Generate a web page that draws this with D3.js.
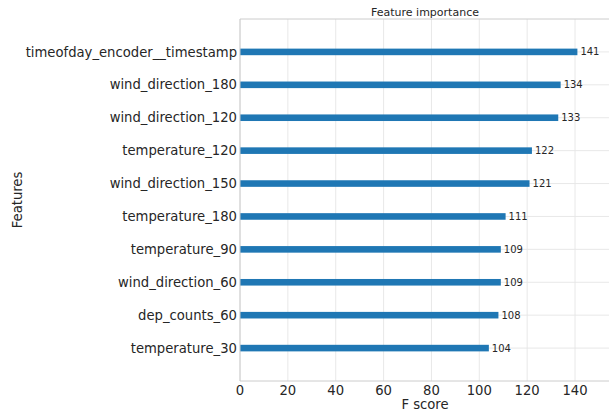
<!DOCTYPE html>
<html><head><meta charset="utf-8">
<script src="https://cdn.jsdelivr.net/npm/d3@7"></script>
<style>body{margin:0;background:#fff}svg{display:block}text{font-family:"DejaVu Sans",sans-serif}</style>
</head><body>
<script>
const features = ["temperature_30","dep_counts_60","wind_direction_60","temperature_90","temperature_180","wind_direction_150","temperature_120","wind_direction_120","wind_direction_180","timeofday_encoder__timestamp"];
const scores = [104,108,109,109,111,121,122,133,134,141];
const xTicks = [0,20,40,60,80,100,120,140];

(function(){
const W=609,H=417;
const svg=d3.select("body").append("svg").attr("width",W).attr("height",H);
const pL=240, pT=19, pB=381;
const x=d3.scaleLinear().domain([0,d3.max(scores)*1.1]).range([pL,pL+155.1*(335/140)]);
const y=d3.scaleLinear().domain([-1,10]).range([pB,pT]);
const pR=W+5;
const grid="#e5e5e5", spine="#cccccc";

svg.append("g").selectAll("line").data(xTicks).join("line")
  .attr("x1",d=>x(d)).attr("x2",d=>x(d)).attr("y1",pT).attr("y2",pB)
  .attr("stroke",grid).attr("stroke-width",0.9);
svg.append("g").selectAll("line").data(features).join("line")
  .attr("x1",pL).attr("x2",pR).attr("y1",(d,i)=>y(i)).attr("y2",(d,i)=>y(i))
  .attr("stroke",grid).attr("stroke-width",0.9);

const bh=y(0)-y(0.2);
svg.append("g").selectAll("rect").data(scores).join("rect")
  .attr("x",x(0)).attr("y",(d,i)=>y(i)-bh/2).attr("width",d=>x(d)-x(0)).attr("height",bh)
  .attr("fill","#1f77b4");

svg.append("g").selectAll("text").data(scores).join("text")
  .attr("x",d=>x(d)+3).attr("y",(d,i)=>y(i)).attr("dy","0.35em")
  .attr("font-size",10).attr("fill","#262626").text(d=>d);

svg.append("line").attr("x1",pL).attr("x2",pL).attr("y1",pT).attr("y2",pB).attr("stroke",spine);
svg.append("line").attr("x1",pL).attr("x2",pR).attr("y1",pB).attr("y2",pB).attr("stroke",spine);
svg.append("line").attr("x1",pL).attr("x2",pR).attr("y1",pT).attr("y2",pT).attr("stroke",spine);

svg.append("g").selectAll("text").data(xTicks).join("text")
  .attr("x",d=>x(d)).attr("y",pB+14).attr("text-anchor","middle")
  .attr("font-size",13.2).attr("fill","#262626").text(d=>d);
svg.append("g").selectAll("text").data(features).join("text")
  .attr("x",pL-3).attr("y",(d,i)=>y(i)).attr("dy","0.35em").attr("text-anchor","end")
  .attr("font-size",13.2).attr("fill","#262626").text(d=>d);

svg.append("text").attr("x",425).attr("y",409).attr("text-anchor","middle")
  .attr("font-size",13.2).attr("fill","#262626").text("F score");
svg.append("text").attr("transform","translate(22,200) rotate(-90)").attr("text-anchor","middle")
  .attr("font-size",13.2).attr("fill","#262626").text("Features");
svg.append("text").attr("x",425).attr("y",16).attr("text-anchor","middle")
  .attr("font-size",11).attr("fill","#262626").text("Feature importance");
})();
</script>
</body></html>
